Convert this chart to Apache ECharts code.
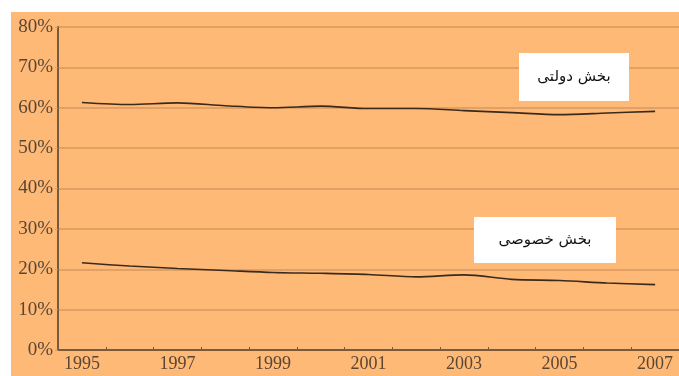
<!DOCTYPE html>
<html>
<head>
<meta charset="utf-8">
<style>
  html, body { margin: 0; padding: 0; background: #ffffff; }
  #chart { width: 679px; height: 376px; }
</style>
<script src="https://cdn.jsdelivr.net/npm/echarts@6/dist/echarts.min.js"></script>
</head>
<body>
<div id="chart"></div>
<script>
// Years on the horizontal axis
const years = ['1995', '1996', '1997', '1998', '1999', '2000', '2001',
               '2002', '2003', '2004', '2005', '2006', '2007'];

// Share of the public sector (%)
const publicShare = [61.3, 60.8, 61.2, 60.5, 60.0, 60.4, 59.8,
                     59.8, 59.3, 58.8, 58.3, 58.7, 59.1];

// Share of the private sector (%)
const privateShare = [21.6, 20.8, 20.2, 19.7, 19.2, 19.0, 18.7,
                      18.1, 18.6, 17.5, 17.2, 16.6, 16.2];

// Series labels
const publicLabel = 'بخش دولتی';
const privateLabel = 'بخش خصوصی';

const bg = '#FFB977';
const gridColor = '#D99A5E';
const axisColor = '#7A5A3C';
const textColor = '#5A4634';
const lineColor = '#3B2A1C';
const serif = '"Liberation Serif", "DejaVu Serif", serif';
const labelFont = '15px "DejaVu Sans", "Noto Sans", sans-serif';

// White label box with centred text, drawn above the plot
function labelBox(left, top, w, h, text) {
  return [
    { type: 'rect', z: 200, silent: true,
      shape: { x: left, y: top, width: w, height: h }, style: { fill: '#ffffff' } },
    { type: 'text', z: 201, silent: true, x: left + w / 2, y: top + h / 2,
      style: { text: text, font: labelFont, fill: '#111111',
               align: 'center', verticalAlign: 'middle' } }
  ];
}

const chart = echarts.init(document.getElementById('chart'));

chart.setOption({
  animation: false,
  grid: { left: 58, right: -3, top: 27, bottom: 26, containLabel: false },
  graphic: [
    {
      type: 'rect', z: -10, silent: true,
      shape: { x: 11, y: 12, width: 668, height: 364 },
      style: { fill: bg }
    },
    ...labelBox(519, 53, 110, 48, publicLabel),
    ...labelBox(474, 217, 142, 46, privateLabel)
  ],
  xAxis: {
    type: 'category',
    data: years,
    boundaryGap: true,
    axisLine: { lineStyle: { color: axisColor, width: 2 } },
    axisTick: { show: true, interval: 0, length: 3, inside: true, lineStyle: { color: axisColor } },
    axisLabel: {
      interval: 1, margin: 5, color: textColor,
      fontFamily: serif, fontSize: 18
    },
    splitLine: { show: false }
  },
  yAxis: {
    type: 'value',
    min: 0, max: 80, interval: 10,
    axisLine: { show: true, lineStyle: { color: axisColor, width: 2 } },
    axisTick: { show: true, length: 3, lineStyle: { color: gridColor } },
    axisLabel: {
      formatter: '{value}%', margin: 5, color: textColor,
      fontFamily: serif, fontSize: 19
    },
    splitLine: { lineStyle: { color: gridColor, width: 1.5 } }
  },
  series: [
    {
      name: publicLabel, type: 'line', data: publicShare,
      smooth: 0.3, symbol: 'none',
      lineStyle: { color: lineColor, width: 1.6 }
    },
    {
      name: privateLabel, type: 'line', data: privateShare,
      smooth: 0.3, symbol: 'none',
      lineStyle: { color: lineColor, width: 1.6 }
    }
  ]
});
</script>
</body>
</html>
